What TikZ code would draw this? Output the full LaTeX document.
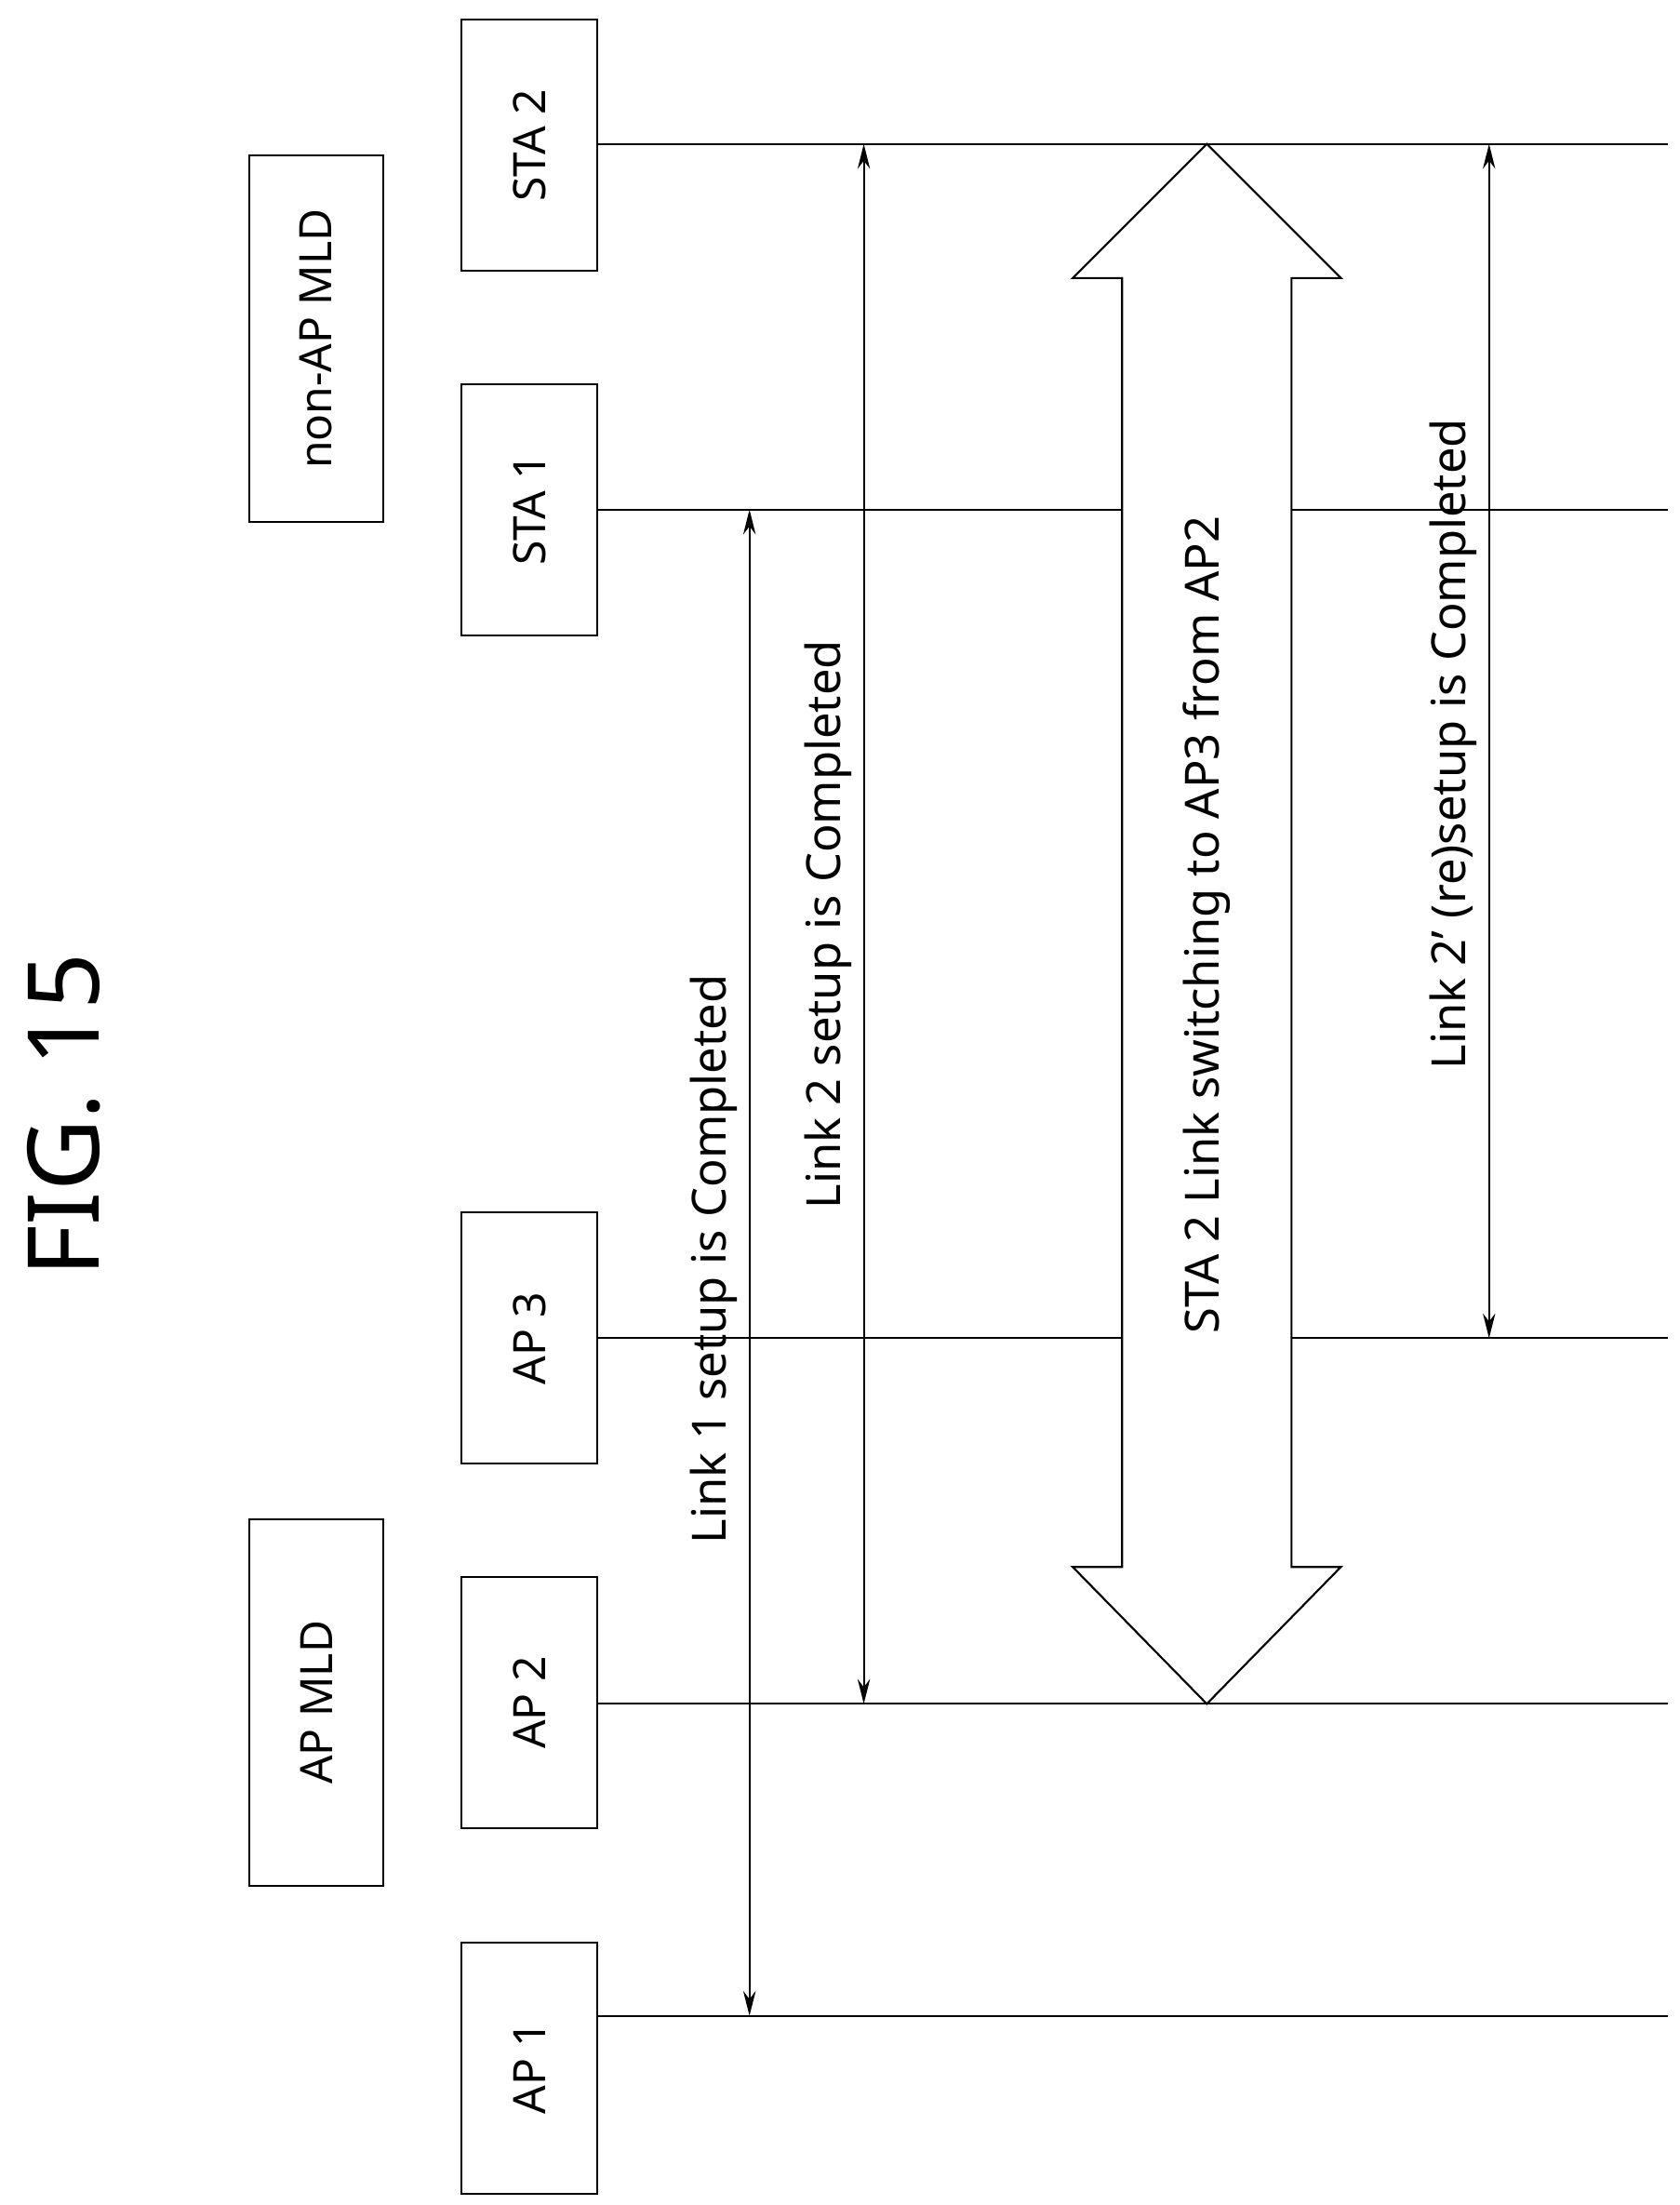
\documentclass[tikz,border=0pt]{standalone}
\usepackage{fontspec}
\setmainfont{Noto Sans}
\usetikzlibrary{positioning,calc,arrows.meta,shapes.arrows}

\tikzset{
  entity/.style={draw,thick,minimum width=3.56cm,minimum height=1.92cm,rotate=90,font=\fontsize{18}{21}\selectfont},
  mld/.style={draw,thick,minimum width=5.2cm,minimum height=1.9cm,rotate=90,font=\fontsize{18}{21}\selectfont},
  life/.style={thick},
  span/.style={thick,{Stealth[length=10pt,width=5pt]}-{Stealth[length=10pt,width=5pt]}},
  lbl/.style={rotate=90,font=\fontsize{19}{22}\selectfont}
}

\begin{document}
\begin{tikzpicture}[x=0.02cm,y=-0.02cm]
  \useasboundingbox (0,0) rectangle (1190,1562);

  % Title
  \node[rotate=90,font=\fontsize{40}{46}\selectfont] (fig) at (45,790) {FIG. 15};

  % Stations and APs
  \node[entity] (sta2) at (375,103) {STA 2};
  \node[entity] (sta1) at (375,361) {STA 1};
  \node[entity] (ap3) at (375,948) {AP 3};
  \node[entity] (ap2) at (375,1206) {AP 2};
  \node[entity] (ap1) at (375,1465) {AP 1};
  \node[mld] (nonapmld) at (224,240) {non-AP MLD};
  \node[mld] (apmld) at (224,1206) {AP MLD};

  % Time lines
  \foreach \n/\y in {sta2/102,sta1/361,ap3/948,ap2/1207,ap1/1428}{
    \coordinate (\n end) at (1182,\y);
    \draw[life] (423,\y) -- (\n end);
  }

  % Link setup spans
  \coordinate (l1a) at (531,361);
  \coordinate (l1b) at (531,1428);
  \draw[span] (l1a) -- (l1b);
  \node[lbl] (l1) at (506,892) {Link 1 setup is Completed};

  \coordinate (l2a) at (612,102);
  \coordinate (l2b) at (612,1207);
  \draw[span] (l2a) -- (l2b);
  \node[lbl] (l2) at (587,655) {Link 2 setup is Completed};

  \coordinate (l3a) at (1055,102);
  \coordinate (l3b) at (1055,948);
  \draw[span] (l3a) -- (l3b);
  \node[lbl] (l3) at (1030,527) {Link 2' (re)setup is Completed};

  % Link switching arrow
  \draw[thick,fill=white] (855,102) -- (950,197) -- (915,197) -- (915,1110) -- (950,1110)
    -- (855,1207) -- (760,1110) -- (795,1110) -- (795,197) -- (760,197) -- cycle;
  \node[lbl] (switch) at (855,655) {STA 2 Link switching to AP3 from AP2};
\end{tikzpicture}
\end{document}
